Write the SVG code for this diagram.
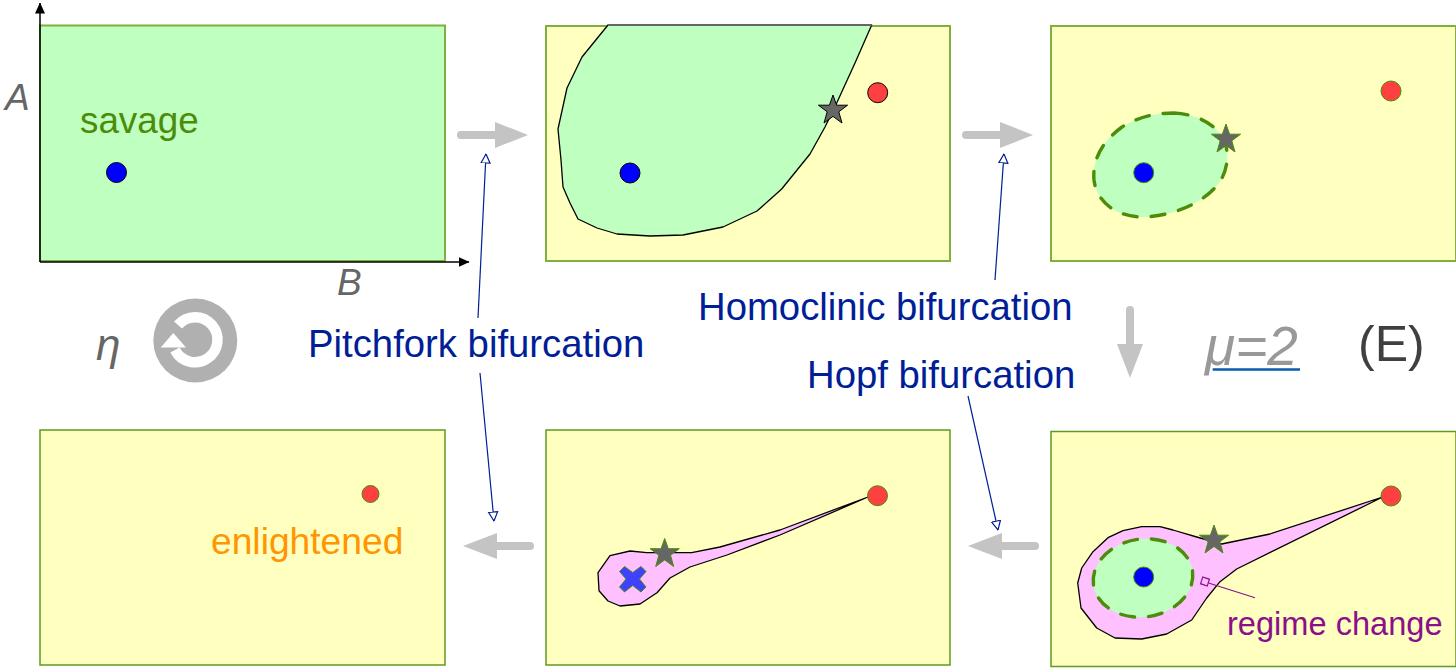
<svg xmlns="http://www.w3.org/2000/svg" width="1456" height="669" viewBox="0 0 1456 669">
<style>
text{font-family:"Liberation Sans",Arial,sans-serif}
.panel{fill:#ffffc0;stroke:#7fb03f;stroke-width:2}
.panel2{fill:#ffffc0;stroke:#5f9a20;stroke-width:1.5}
.green{fill:#bfffbf}
.edge{stroke:#000;stroke-width:1.3;stroke-linejoin:round}
.pink{fill:#ffc0ff;stroke:#000;stroke-width:1.3;stroke-linejoin:round}
.dash{fill:#bfffbf;stroke:#4b8c0a;stroke-width:3.4;stroke-linecap:round;stroke-dasharray:14 14}
.blue{fill:#0000ff}
.red{fill:#ff4040}
.bk{stroke:#000;stroke-width:1}
.gn{stroke:#4b8c0a;stroke-width:1}
.star{fill:#666}
.blab{fill:#001e96;font-size:38.300px}
.axis{fill:#666;font-size:37px;font-style:italic}
.flow{stroke:#c4c4c4;stroke-width:8;stroke-linecap:round;fill:none}
.flowhead{fill:#c4c4c4}
.lead{stroke:#001e96;stroke-width:1.2;fill:none;marker-end:url(#open)}
</style>
<defs>
<marker id="open" viewBox="0 0 10 14" refX="9.5" refY="7" markerWidth="10" markerHeight="14" markerUnits="userSpaceOnUse" orient="auto">
<path d="M0.5 2.5 L9.5 7 L0.5 11.5 Z" fill="#fff" stroke="#001e96" stroke-width="1.2"/>
</marker>
<marker id="solid" viewBox="0 0 11 10" refX="10.5" refY="5" markerWidth="11" markerHeight="10" markerUnits="userSpaceOnUse" orient="auto">
<path d="M0 0 L11 5 L0 10 Z" fill="#000"/>
</marker>
<polygon id="starshape" points="0,-15 3.6,-4.8 14.6,-4.8 5.8,1.8 9,13 0,6.4 -9,13 -5.8,1.8 -14.6,-4.8 -3.6,-4.8"/>
</defs>

<g id="panel-savage">
<rect x="40" y="25.500" width="405" height="235.500" fill="#bfffbf" stroke="#7fb03f" stroke-width="2"/>
<text x="80" y="133" font-size="36.800" fill="#4b8c0a">savage</text>
<circle class="blue bk" cx="116.500" cy="172.500" r="10"/>
</g>

<g id="panel-pitchfork">
<rect class="panel" x="546" y="26" width="404" height="235"/>
<path class="green edge" d="M608 25 L871.700 25 L855 63 L836.700 103 L825 127 L810 154 L781.700 189 L757 211 L723 227 L683 235 L650 236 L617 234 L597 228 L578 219 L570 203 L563 187 L561 160 L558 129 L567 88 L582 57 Z"/>
<line x1="608" y1="25" x2="871.700" y2="25" stroke="#666" stroke-width="2"/>
<use href="#starshape" x="833" y="110" class="star bk"/>
<circle class="red bk" cx="877.700" cy="92.700" r="10"/>
<circle class="blue bk" cx="630" cy="173" r="10"/>
</g>

<g id="panel-homoclinic">
<rect class="panel" x="1051" y="26" width="405" height="235"/>
<path class="dash" d="M1174 113 C1196 114 1216 124 1224 140 C1229 152 1228 166 1222 178 C1210 200 1175 217 1140 217 C1118 216 1097 204 1094 180 C1092 158 1104 140 1122 127 C1138 117 1155 113 1174 113 Z"/>
<use href="#starshape" x="1226" y="139" class="star gn"/>
<circle class="red gn" cx="1391" cy="91" r="10"/>
<circle class="blue gn" cx="1143.700" cy="172.700" r="10"/>
</g>

<g id="panel-regime">
<rect class="panel2" x="1051" y="431.500" width="405" height="235"/>
<path class="pink" d="M1382.700 497 L1270 534 L1221.700 544 L1196.700 537 L1173 530 L1160 526.700 L1141.700 526.700 L1123 530.700 L1108 537.700 L1093 551.700 L1081.700 568 L1077.700 583 L1081 608 L1096.700 628 L1115 638 L1141.700 639 L1166.700 634 L1191.700 620 L1206.700 598 L1220 581.700 L1236.700 569 Z"/>
<ellipse class="dash" cx="1143" cy="578" rx="50" ry="39" transform="rotate(-8 1143 578)"/>
<use href="#starshape" x="1214" y="540" class="star gn"/>
<circle class="red gn" cx="1391" cy="496" r="10"/>
<circle class="blue gn" cx="1143.700" cy="577" r="10"/>
<rect x="1201.500" y="578" width="7" height="7" fill="none" stroke="#8b0f8b" stroke-width="1.200" transform="rotate(18 1205 581.500)"/>
<line x1="1208.500" y1="583" x2="1255" y2="597.700" stroke="#8b0f8b" stroke-width="1.200"/>
<text x="1227" y="635" font-size="32.600" fill="#8b0f8b">regime change</text>
</g>

<g id="panel-teardrop">
<rect class="panel2" x="546" y="430" width="404" height="235"/>
<path class="pink" d="M868 497 L780 530 L720 547 L691.700 552.700 L646.700 552.700 L630 551 L610 555.700 L598 572.700 L599 590.700 L608 601 L620 606 L640 604 L657 592.700 L670 578 L690 567 L727 555 L780 535 Z"/>
<use href="#starshape" x="664.700" y="553.500" class="star gn"/>
<path d="M624.500 566.500 L632.700 572.500 L641 566.500 L646 571.500 L639.500 579 L646 587 L641 592 L632.700 585.500 L624.500 592 L619.500 587 L626 579 L619.500 571.500 Z" fill="#4040ff" stroke="#4b8c0a" stroke-width="1"/>
<circle class="red gn" cx="877.500" cy="495.700" r="10"/>
</g>

<g id="panel-enlightened">
<rect class="panel2" x="40" y="430" width="405" height="235"/>
<circle class="red gn" cx="370.500" cy="494" r="8.500"/>
<text x="211" y="554" font-size="37.200" fill="#ff9500">enlightened</text>
</g>

<g id="connectors">
<line x1="40" y1="262" x2="40" y2="3" stroke="#000" stroke-width="1.500" marker-end="url(#solid)"/>
<line x1="40" y1="262" x2="469" y2="262" stroke="#000" stroke-width="1.500" marker-end="url(#solid)"/>
<line class="flow" x1="461" y1="135" x2="500" y2="135"/><polygon class="flowhead" points="495,122 528,135 495,148"/>
<line class="flow" x1="966" y1="135" x2="1005" y2="135"/><polygon class="flowhead" points="1000,122 1033,135 1000,148"/>
<line class="flow" x1="1130" y1="310" x2="1130" y2="350"/><polygon class="flowhead" points="1117,344 1143,344 1130,378"/>
<line class="flow" x1="1035" y1="546" x2="998" y2="546"/><polygon class="flowhead" points="1002,533 1002,559 968,546"/>
<line class="flow" x1="530" y1="546" x2="493" y2="546"/><polygon class="flowhead" points="497,533 497,559 463,546"/>
<line class="lead" x1="478" y1="318" x2="486" y2="154"/>
<line class="lead" x1="480" y1="373" x2="494" y2="521"/>
<line class="lead" x1="995" y1="280" x2="1004" y2="154"/>
<line class="lead" x1="968" y1="396" x2="998" y2="530"/>
</g>

<g id="labels">
<text class="axis" x="5" y="110">A</text>
<text class="axis" x="337" y="295">B</text>
<text class="axis" x="96" y="360" style="font-size:44px">η</text>
<text class="blab" x="308" y="357">Pitchfork bifurcation</text>
<text class="blab" x="698" y="320">Homoclinic bifurcation</text>
<text class="blab" x="807" y="388">Hopf bifurcation</text>
<text x="1205" y="365" font-size="55" font-style="italic" fill="#999">μ=2</text>
<line x1="1212.700" y1="369.500" x2="1300" y2="369.500" stroke="#0b5ca8" stroke-width="2.500"/>
<text x="1358" y="361" font-size="50" fill="#404040">(E)</text>
</g>

<g id="reset-icon">
<circle cx="195.300" cy="340.500" r="42" fill="#b0b0b0"/>
<path d="M178 325 A22.500 22.500 0 1 1 175 350" fill="none" stroke="#fff" stroke-width="10.500"/>
<polygon points="160.700,347.500 186,347.500 173.300,333" fill="#fff"/>
</g>
</svg>
